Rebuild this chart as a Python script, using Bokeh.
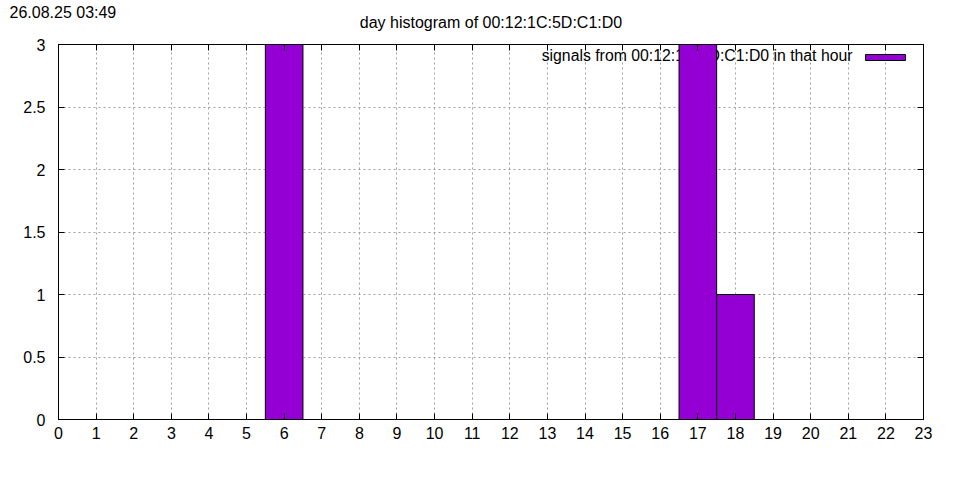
from bokeh.plotting import figure
from bokeh.models import (Range1d, FixedTicker, LinearAxis, NumeralTickFormatter,
                          Label, BoxAnnotation, ColumnDataSource, Title,
                          CustomLabelingPolicy)
from bokeh.embed import file_html
from bokeh.resources import INLINE

# ---- data ----
hours = list(range(24))
counts = [0, 0, 0, 0, 0, 0, 3, 0, 0, 0, 0, 0, 0, 0, 0, 0, 0, 3, 1, 0, 0, 0, 0, 0]
x_ticks = list(range(24))
y_ticks = [0, 0.5, 1, 1.5, 2, 2.5, 3]
title_text = "day histogram of 00:12:1C:5D:C1:D0"
date_text = "26.08.25 03:49"
legend_text = "signals from 00:12:1C:5D:C1:D0 in that hour"

BAR_COLOR = "#9400d3"
FONT = "Liberation Sans"
FS = "16px"

p = figure(width=944, height=464, output_backend="svg", toolbar_location=None,
           x_range=Range1d(0, 23), y_range=Range1d(0, 3), title=None,
           min_border_left=58, min_border_right=21, min_border_top=44,
           min_border_bottom=45, x_axis_location=None, y_axis_location=None)
p.outline_line_color = "black"
p.outline_line_width = 1
p.background_fill_color = "white"
p.border_fill_color = "white"

src = ColumnDataSource(dict(hour=hours, count=counts))
p.vbar(x="hour", top="count", bottom=0, width=1.0, source=src,
       fill_color=BAR_COLOR, line_color="black", line_width=1)

def make_axis(ticks, show_labels, fmt=None):
    ax = LinearAxis(ticker=FixedTicker(ticks=ticks))
    ax.major_tick_in = 6
    ax.major_tick_out = 0
    ax.minor_tick_in = 0
    ax.minor_tick_out = 0
    ax.axis_line_color = "black"
    ax.major_tick_line_color = "black"
    ax.major_label_text_font = FONT
    ax.major_label_text_color = "black"
    if fmt is not None:
        ax.formatter = fmt
    if show_labels:
        ax.major_label_text_font_size = FS
    else:
        # mirrored ticks only: draw no labels at all
        ax.major_label_policy = CustomLabelingPolicy(code="return []")
        ax.major_label_text_font_size = "0px"
        ax.major_label_standoff = 0
    return ax

ax_b = make_axis(x_ticks, True)
ax_b.major_label_standoff = 7
ax_l = make_axis(y_ticks, True, NumeralTickFormatter(format="0.[0]"))
ax_l.major_label_standoff = 13
ax_t = make_axis(x_ticks, False)
ax_r = make_axis(y_ticks, False)
p.add_layout(ax_b, "below")
p.add_layout(ax_l, "left")
p.add_layout(ax_t, "above")
p.add_layout(ax_r, "right")

# titles (stacked outward from the frame)
p.add_layout(Title(text=title_text, align="center", vertical_align="top",
                   standoff=23, text_font=FONT, text_font_size=FS,
                   text_font_style="normal", text_color="black"), "above")
p.add_layout(Title(text=date_text, align="left", vertical_align="bottom",
                   offset=-49, standoff=-37, text_font=FONT, text_font_size=FS,
                   text_font_style="normal", text_color="black"), "above")

# grids
p.xgrid.ticker = FixedTicker(ticks=x_ticks)
p.ygrid.ticker = FixedTicker(ticks=y_ticks)
for g in (p.xgrid, p.ygrid):
    g.grid_line_color = "#a0a0a0"
    g.grid_line_dash = "2 3"
    g.grid_line_width = 1

# legend (drawn beneath the bars, as in the original)
p.add_layout(Label(x=794, y=364, x_units="screen", y_units="screen",
                   text=legend_text, text_font=FONT, text_font_size="15.8px",
                   text_color="black", text_align="right",
                   text_baseline="alphabetic", level="underlay"))
p.add_layout(BoxAnnotation(left=807, right=847, bottom=359, top=365,
                           left_units="screen", right_units="screen",
                           bottom_units="screen", top_units="screen",
                           fill_color=BAR_COLOR, fill_alpha=1.0,
                           line_color="black", line_width=1, line_alpha=1.0,
                           level="underlay"))

open("out.html", "w").write(file_html(p, INLINE))
